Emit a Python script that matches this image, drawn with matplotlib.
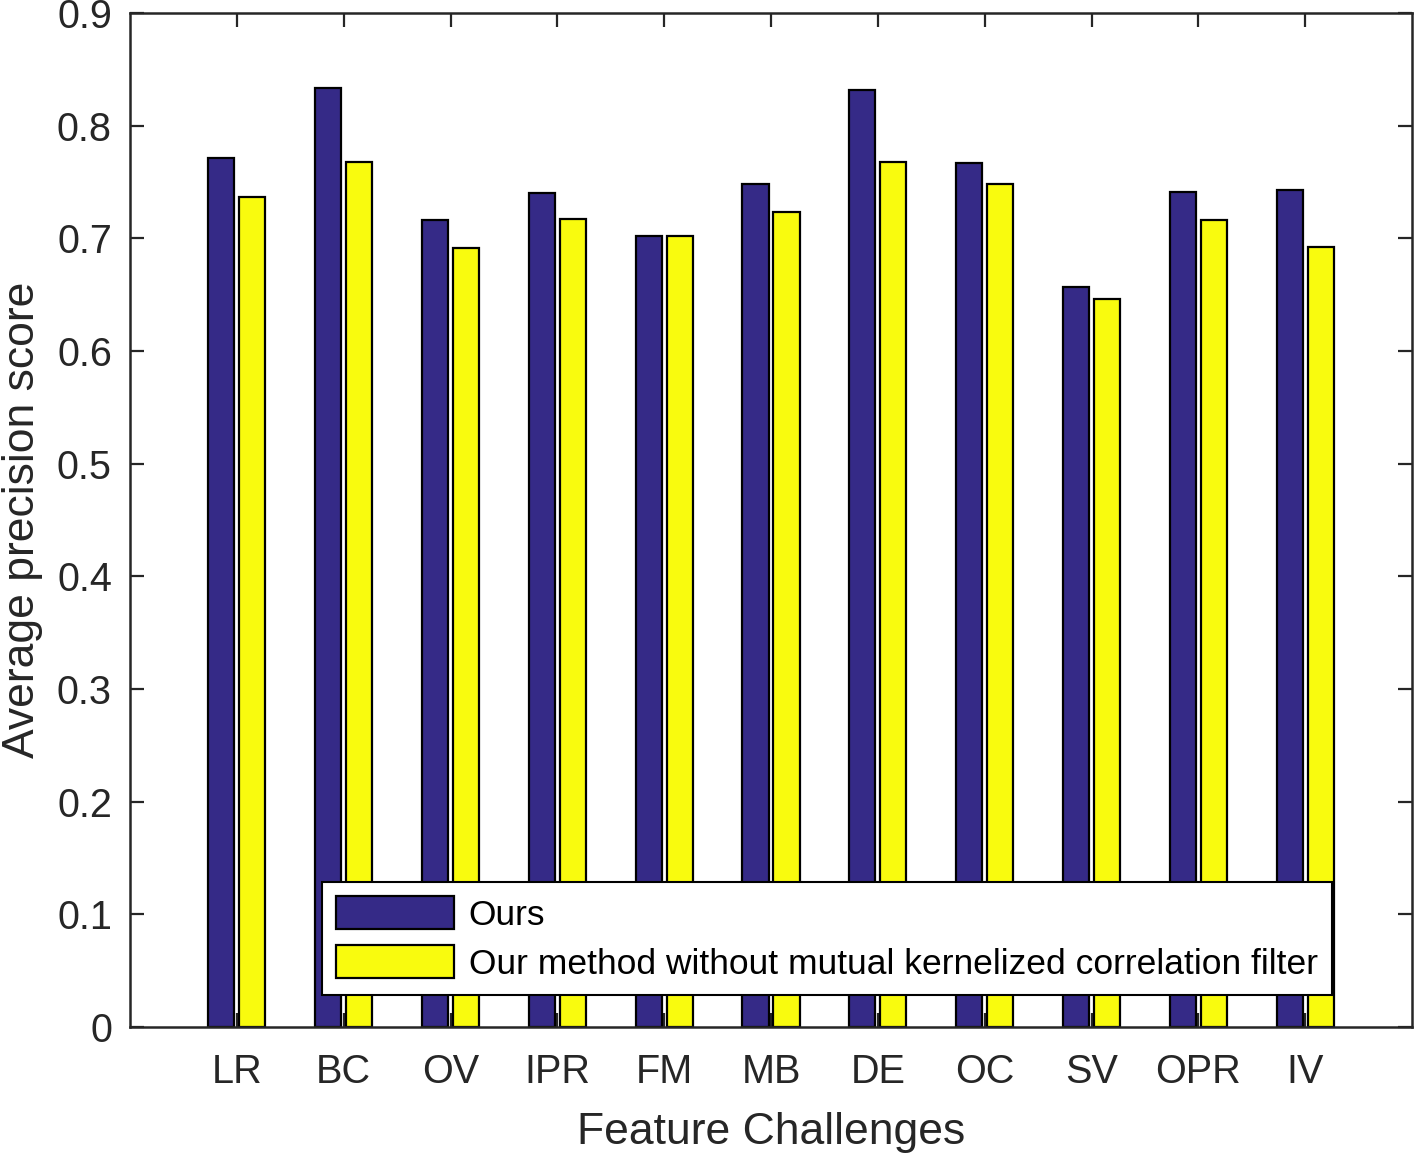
import numpy as np
import matplotlib.pyplot as plt

plt.rcParams['font.family'] = ['Liberation Sans', 'DejaVu Sans']

categories = ['LR', 'BC', 'OV', 'IPR', 'FM', 'MB', 'DE', 'OC', 'SV', 'OPR', 'IV']
ours = [0.771, 0.833, 0.716, 0.740, 0.702, 0.748, 0.832, 0.767, 0.657, 0.741, 0.743]
no_mkcf = [0.737, 0.768, 0.691, 0.717, 0.702, 0.723, 0.768, 0.748, 0.646, 0.716, 0.692]
labels = ['Ours', 'Our method without mutual kernelized correlation filter']

dark = '#352a87'
yellow = '#f9fb0e'
txt = '#262626'

fig = plt.figure(figsize=(14.18, 11.56), dpi=100)
ax = fig.add_axes([0.0917, 0.1116, 0.9041, 0.8772])

x = np.arange(1, len(categories) + 1)
w = 0.245
off = 0.145
ax.bar(x - off, ours, w, color=dark, edgecolor='black', linewidth=1.6, label=labels[0])
ax.bar(x + off, no_mkcf, w, color=yellow, edgecolor='black', linewidth=1.6, label=labels[1])

ax.set_xlim(0, 12)
ax.set_ylim(0, 0.9)
ax.set_xticks(x)
ax.set_xticklabels(categories)
ax.set_yticks(np.arange(0, 0.91, 0.1))
ax.set_yticklabels(['0'] + ['%.1f' % v for v in np.arange(0.1, 0.91, 0.1)])
ax.set_axisbelow(True)

ax.tick_params(axis='both', which='both', direction='in', length=10, width=1.6,
               top=True, right=True, labelsize=28.5, color=txt, labelcolor=txt)
ax.tick_params(axis='x', pad=19)
ax.tick_params(axis='y', pad=13)
for s in ax.spines.values():
    s.set_linewidth(1.8)
    s.set_color(txt)

ax.set_xlabel('Feature Challenges', fontsize=32, color=txt, labelpad=15)
ax.set_ylabel('Average precision score', fontsize=32, color=txt, labelpad=10)

leg = ax.legend(loc='lower left', bbox_to_anchor=(0.150, 0.0315), borderaxespad=0,
                fancybox=False, edgecolor='black', framealpha=1, fontsize=25.5,
                handlelength=3.33, handleheight=1.07, labelspacing=0.38,
                handletextpad=0.4, borderpad=0.4)
leg.get_frame().set_linewidth(1.5)

fig.savefig('out.png', dpi=100)
